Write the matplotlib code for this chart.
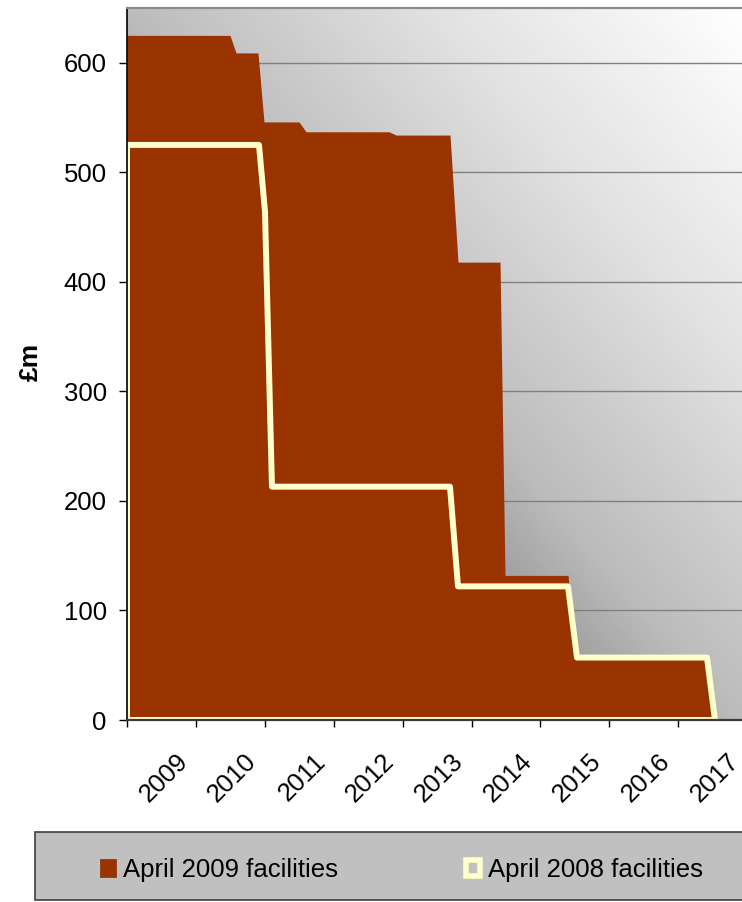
import numpy as np
import matplotlib
matplotlib.use("Agg")
import matplotlib.pyplot as plt
from matplotlib.colors import LinearSegmentedColormap
from matplotlib.patches import Patch, Rectangle
from matplotlib.transforms import ScaledTranslation

plt.rcParams['font.family'] = ['Liberation Sans', 'DejaVu Sans']

# ---- data (x in fractional years, values in £m) ----
years_2009 = [2008.0, 2009.495, 2009.582, 2009.901, 2009.988, 2010.496, 2010.598,
              2011.803, 2011.904, 2012.688, 2012.804, 2013.414, 2013.486,
              2014.401, 2014.502, 2016.418, 2016.520]
values_2009 = [625, 625, 609, 609, 546, 546, 537, 537, 534, 534, 418, 418, 132,
               132, 57, 57, 0]

years_2008 = [2008.0, 2009.916, 2010.003, 2010.104, 2012.688, 2012.804,
              2014.401, 2014.531, 2016.418, 2016.534]
values_2008 = [525, 525, 464, 213, 213, 122, 122, 57, 57, 0]

tick_years = list(range(2008, 2018))
tick_labels = [''] + [str(y) for y in range(2009, 2018)]
y_ticks = [0, 100, 200, 300, 400, 500, 600]
series_names = ['April 2009 facilities', 'April 2008 facilities']

RED = '#993300'
YELLOW = '#ffffcc'

W_PX, H_PX = 742, 902
fig = plt.figure(figsize=(W_PX / 100, H_PX / 100), dpi=100)
ax_left, ax_top, ax_bottom = 127, 8, 720
ax_w = 654.55
ax = fig.add_axes([ax_left / W_PX, (H_PX - ax_bottom) / H_PX,
                   ax_w / W_PX, (ax_bottom - ax_top) / H_PX])

# gradient background (grey bottom-left -> white top-right)
vis_w = W_PX - ax_left
u = np.linspace(0, 1, 400) * ax_w / vis_w
v = np.linspace(0, 1, 400)
s = (u[None, :] + v[:, None]) / 2
cmap = LinearSegmentedColormap.from_list(
    'bg', [(0, '#7c7c7c'), (0.42, '#a4a4a4'), (0.5, '#bcbcbc'),
           (0.75, '#e2e2e2'), (1, '#ffffff')])
ax.imshow(s, extent=(0, 1, 0, 1), transform=ax.transAxes, origin='lower',
          cmap=cmap, vmin=0, vmax=1, aspect='auto', zorder=0,
          interpolation='bilinear')

ax.fill_between(years_2009, values_2009, 0, color=RED, lw=0, zorder=1)
ax.fill_between(years_2008, values_2008, 0, facecolor='none', edgecolor=YELLOW,
                lw=4.3, zorder=2)

ax.set_xlim(2008, 2017.5)
ax.set_ylim(0, 650)
ax.set_autoscale_on(False)

ax.set_yticks(y_ticks)
ax.yaxis.grid(True, color='#808080', lw=1.0)
ax.set_axisbelow(True)
for gl in ax.get_ygridlines():
    gl.set_zorder(0.5)

ax.tick_params(axis='y', length=6, width=1, pad=8.5, labelsize=18.5, colors='black')
ax.tick_params(axis='x', length=5, width=1, pad=22, labelsize=18.5, colors='black')
ax.set_xticks(tick_years)
ax.set_xticklabels(tick_labels, rotation=45, rotation_mode='anchor', ha='right', va='center')
offset = ScaledTranslation(-0.12, 0, fig.dpi_scale_trans)
for lbl in ax.get_xticklabels():
    lbl.set_transform(lbl.get_transform() + offset)

ax.spines['left'].set_color('black')
ax.spines['left'].set_linewidth(1.2)
ax.spines['bottom'].set_color('#3a3a3a')
ax.spines['bottom'].set_linewidth(1.6)
ax.spines['top'].set_color('#8c8c8c')
ax.spines['top'].set_linewidth(1.6)
ax.spines['right'].set_visible(False)
for sp in ax.spines.values():
    sp.set_zorder(3)

ax.set_ylabel('£m', fontsize=19, fontweight='bold')
ax.yaxis.set_label_coords(-0.129, 0.503)

# legend box
fig.add_artist(Rectangle((35 / W_PX, 2 / H_PX), 0.97, 68 / H_PX,
                         transform=fig.transFigure, facecolor='#c0c0c0',
                         edgecolor='#404040', lw=1.2, zorder=0))
handles = [Patch(facecolor=RED, edgecolor=RED, lw=2),
           Patch(facecolor='#c0c0c0', edgecolor=YELLOW, lw=4)]
fig.legend(handles, series_names, loc='center left',
           bbox_to_anchor=(101.4 / W_PX, (H_PX - 870) / H_PX), ncol=2,
           frameon=False, fontsize=18.5, handlelength=0.545, handleheight=0.545,
           handletextpad=0.3, columnspacing=4.97, borderpad=0, borderaxespad=0)

fig.savefig('out.png', dpi=100)
